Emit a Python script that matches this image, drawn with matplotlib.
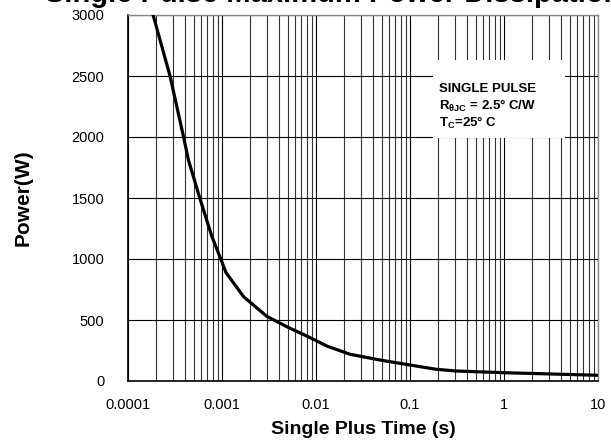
import matplotlib
matplotlib.use("Agg")
import matplotlib.pyplot as plt
from matplotlib.patches import Rectangle
from matplotlib.ticker import LogLocator, FixedLocator
import numpy as np

plt.rcParams['font.family'] = ['Liberation Sans', 'DejaVu Sans']
plt.rcParams['mathtext.fontset'] = 'custom'
plt.rcParams['mathtext.rm'] = 'Liberation Sans:bold'
plt.rcParams['mathtext.it'] = 'Liberation Sans:bold'
plt.rcParams['mathtext.bf'] = 'Liberation Sans:bold'

# pulse width (s) and peak power (W)
pulse_time = [1.85e-4, 2.8e-4, 3.9e-4, 4.4e-4, 5.8e-4, 7.8e-4, 9.7e-4, 1.1e-3,
              1.7e-3, 3.0e-3, 4.9e-3, 9.4e-3, 1.3e-2, 2.3e-2, 4.8e-2, 0.1,
              0.19, 0.31, 1.0, 10.0]
peak_power = [3000, 2500, 2000, 1810, 1500, 1185, 1000, 890,
              690, 530, 445, 342, 287, 219, 172, 131,
              96, 82, 68, 47]

x_ticks = [1e-4, 1e-3, 1e-2, 1e-1, 1, 10]
x_labels = ['0.0001', '0.001', '0.01', '0.1', '1', '10']
y_ticks = [0, 500, 1000, 1500, 2000, 2500, 3000]

fig = plt.figure(figsize=(6.11, 4.46), dpi=100)
ax = fig.add_axes([128/611, 1 - 381/446, 470/611, 366/446])

ax.set_xscale('log')
ax.set_xlim(1e-4, 10)
ax.set_ylim(0, 3000)

ax.plot(pulse_time, peak_power, color='black', lw=2.3, zorder=4, clip_on=True)

# grid
ax.xaxis.set_major_locator(FixedLocator(x_ticks))
ax.xaxis.set_minor_locator(LogLocator(base=10, subs=np.arange(2, 10)))
ax.set_yticks(y_ticks)
ax.grid(True, which='major', axis='both', color='black', lw=0.8)
ax.grid(True, which='minor', axis='x', color='#333333', lw=0.8)
ax.set_axisbelow(True)

ax.set_xticklabels(x_labels)
ax.tick_params(axis='both', which='both', length=0, labelsize=10.5)
ax.tick_params(axis='x', pad=12)
ax.tick_params(axis='y', pad=17)

for side in ['left', 'bottom']:
    ax.spines[side].set_color('black')
    ax.spines[side].set_linewidth(1.2)
for side in ['top', 'right']:
    ax.spines[side].set_color('#888888')
    ax.spines[side].set_linewidth(1.0)

# annotation box covering the grid
ax.add_patch(Rectangle((0.649, 0.664), 0.281, 0.213, transform=ax.transAxes,
                       facecolor='white', edgecolor='none', zorder=3))
ax.text(0.662, 0.798, 'SINGLE PULSE', transform=ax.transAxes, fontsize=9.5,
        fontweight='bold', va='center', ha='left', zorder=5)
ax.text(0.662, 0.752, r'R$_{\theta JC}$ = 2.5° C/W', transform=ax.transAxes,
        fontsize=9.5, fontweight='bold', va='center', ha='left', zorder=5)
ax.text(0.662, 0.706, r'T$_{C}$=25° C', transform=ax.transAxes,
        fontsize=9.5, fontweight='bold', va='center', ha='left', zorder=5)

ax.set_xlabel('Single Plus Time (s)', fontsize=14, fontweight='bold', labelpad=7)
ax.set_ylabel('Power(W)', fontsize=15, fontweight='bold', labelpad=28)

fig.text(45/611, 1 - 2/446, 'Single Pulse Maximum Power Dissipation',
         fontsize=21, fontweight='bold', ha='left', va='baseline')

fig.savefig('out.png', dpi=100)
